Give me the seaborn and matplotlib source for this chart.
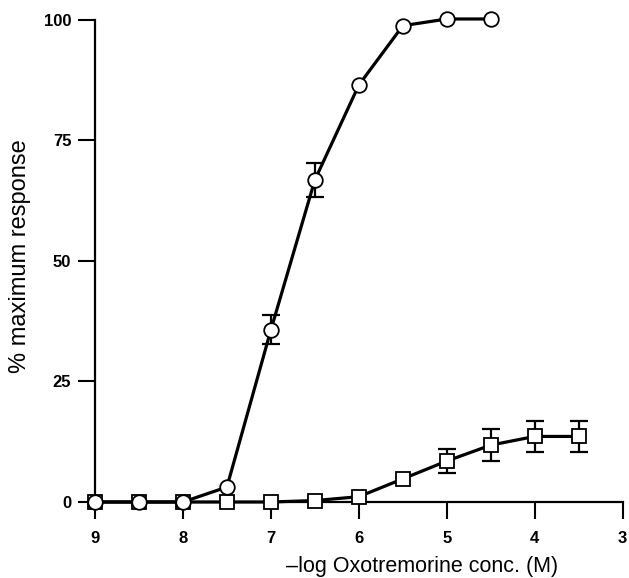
import matplotlib
matplotlib.use("Agg")
import matplotlib.pyplot as plt
import seaborn as sns
import numpy as np
import pandas as pd

# Data
circle_x = [9, 8.5, 8, 7.5, 7, 6.5, 6, 5.5, 5, 4.5]
circle_y = [0, 0, 0, 3.1, 35.7, 66.8, 86.5, 98.8, 100.2, 100.2]
circle_err = [0, 0, 0, 0, 3.0, 3.6, 0, 0, 0, 0]

square_x = [9, 8.5, 8, 7.5, 7, 6.5, 6, 5.5, 5, 4.5, 4, 3.5]
square_y = [0, 0, 0, 0, 0, 0.3, 1.1, 4.8, 8.5, 11.8, 13.6, 13.6]
square_err = [0, 0, 0, 0, 0, 0, 0, 0, 2.5, 3.3, 3.3, 3.3]

x_ticks = [9, 8, 7, 6, 5, 4, 3]
y_ticks = [0, 25, 50, 75, 100]

sns.set_style("ticks")
plt.rcParams['font.family'] = ['Liberation Sans', 'DejaVu Sans']

fig = plt.figure(figsize=(6.29, 5.78), dpi=100)
ax = fig.add_axes([0.151, 0.1315, 0.839, 0.834])

df_c = pd.DataFrame({"x": circle_x, "y": circle_y})
df_s = pd.DataFrame({"x": square_x, "y": square_y})

for xs, ys, es in [(square_x, square_y, square_err), (circle_x, circle_y, circle_err)]:
    xs_e = [x for x, e in zip(xs, es) if e > 0]
    ys_e = [y for y, e in zip(ys, es) if e > 0]
    es_e = [e for e in es if e > 0]
    ax.errorbar(xs_e, ys_e, yerr=es_e, fmt='none', ecolor='black',
                elinewidth=1.6, capsize=6.5, capthick=1.6, zorder=2, clip_on=False)

sns.lineplot(data=df_s, x="x", y="y", ax=ax, color='black', linewidth=2.3,
             marker='s', markersize=9.5, markerfacecolor='white',
             markeredgecolor='black', markeredgewidth=1.3, clip_on=False, zorder=3)
sns.lineplot(data=df_c, x="x", y="y", ax=ax, color='black', linewidth=2.3,
             marker='o', markersize=10.5, markerfacecolor='white',
             markeredgecolor='black', markeredgewidth=1.3, clip_on=False, zorder=4)

ax.set_xlim(9, 3)
ax.set_ylim(0, 100)
ax.set_xticks(x_ticks)
ax.set_yticks(y_ticks)
ax.set_xticklabels([str(t) for t in x_ticks], fontweight='bold', fontsize=12)
ax.set_yticklabels([str(t) for t in y_ticks], fontweight='bold', fontsize=12)
ax.tick_params(axis='both', direction='out', length=12, width=1.5,
               color='black', labelcolor='black')
ax.tick_params(axis='y', pad=5)
ax.tick_params(axis='x', pad=9)
for s in ['top', 'right']:
    ax.spines[s].set_visible(False)
for s in ['left', 'bottom']:
    ax.spines[s].set_linewidth(1.6)
    ax.spines[s].set_color('black')

ax.set_xlabel("–log Oxotremorine conc. (M)", fontsize=15.5, color='black')
ax.xaxis.set_label_coords(0.62, -0.112)
ax.set_ylabel("% maximum response", fontsize=17, color='black')
ax.yaxis.set_label_coords(-0.121, 0.51)

fig.savefig("out.png", dpi=100)
